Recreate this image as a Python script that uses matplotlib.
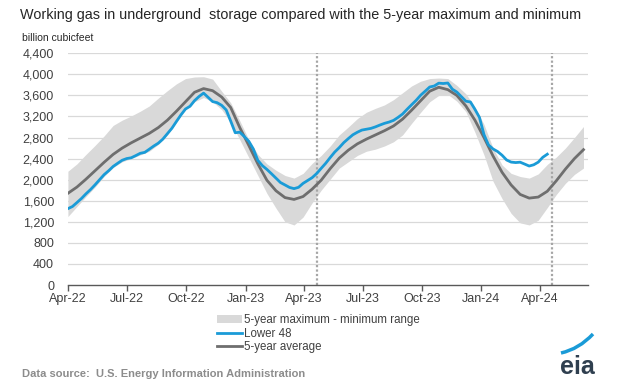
import matplotlib
matplotlib.use("Agg")
import matplotlib.pyplot as plt
from matplotlib.path import Path
from matplotlib.patches import PathPatch, Patch
from matplotlib.lines import Line2D
import pandas as pd

plt.rcParams['font.family'] = ['Liberation Sans', 'DejaVu Sans']

# ---------------- data ----------------
title = "Working gas in underground  storage compared with the 5-year maximum and minimum"
unit_label = "billion cubicfeet"
source_text = "Data source:  U.S. Energy Information Administration"

# weekly Lower 48 working gas, week ending 2022-04-15 .. 2024-04-26
lower48_start = "2022-04-15"
lower48 = [
    1450, 1490, 1566, 1643, 1732, 1812, 1902, 1999, 2095, 2169, 2251, 2311, 2369, 2401,
    2416, 2457, 2501, 2519, 2579, 2640, 2694, 2771, 2874, 2977, 3106, 3231, 3342, 3394,
    3501, 3580, 3644, 3564, 3483, 3462, 3412, 3325, 3112, 2891,
    2902, 2820, 2729, 2583, 2366, 2266, 2195, 2114, 2030, 1946, 1900, 1853, 1830, 1855,
    1930, 1984, 2038, 2116, 2215, 2311, 2421, 2525, 2609, 2704, 2780, 2852, 2901, 2942,
    2958, 2974, 3003, 3038, 3070, 3094, 3126, 3183, 3247, 3337, 3423, 3507, 3604, 3681,
    3760, 3779, 3833, 3826, 3836, 3719, 3664, 3577, 3490, 3476,
    3336, 3182, 2856, 2659, 2584, 2535, 2464, 2374, 2334, 2325, 2332, 2296, 2259, 2283,
    2333, 2425, 2484,
]

# biweekly 5-year statistics, 2022-04-15 .. 2024-06-21
five_start = "2022-04-15"
avg5 = [
    1741, 1860, 2010, 2170, 2330, 2480, 2600, 2700, 2790, 2880, 2990, 3130, 3300, 3480,
    3660, 3730, 3690, 3570, 3370, 2990, 2650, 2300, 1990, 1790, 1660, 1625, 1680, 1820,
    1990, 2210, 2410, 2560, 2680, 2770, 2850, 2930, 3020, 3150, 3320, 3500, 3680, 3755,
    3710, 3600, 3400, 3130, 2800, 2450, 2140, 1900, 1720, 1650, 1670, 1780, 1980, 2200,
    2400, 2570,
]
max5 = [
    2160, 2300, 2480, 2650, 2830, 3030, 3130, 3210, 3300, 3400, 3550, 3690, 3820, 3920,
    3950, 3955, 3910, 3680, 3460, 3120, 2760, 2480, 2300, 2180, 2080, 2030, 2120, 2310,
    2460, 2640, 2850, 3000, 3160, 3280, 3355, 3420, 3520, 3650, 3780, 3870, 3920, 3930,
    3920, 3790, 3630, 3380, 3050, 2600, 2280, 2120, 2060, 2030, 2110, 2290, 2430, 2600,
    2800, 3010,
]
min5 = [
    1300, 1490, 1680, 1860, 2060, 2230, 2340, 2400, 2470, 2540, 2670, 2850, 3090, 3330,
    3480, 3560, 3480, 3330, 3090, 2760, 2420, 2080, 1740, 1460, 1200, 1140, 1290, 1560,
    1800, 2010, 2220, 2340, 2460, 2540, 2580, 2640, 2720, 2850, 3070, 3280, 3480, 3600,
    3620, 3490, 3290, 2900, 2470, 1970, 1640, 1360, 1180, 1140, 1230, 1470, 1720, 1930,
    2100, 2220,
]

tick_dates = ["2022-04-15", "2022-07-15", "2022-10-15", "2023-01-15", "2023-04-15",
              "2023-07-15", "2023-10-15", "2024-01-15", "2024-04-15"]
tick_labels = ["Apr-22", "Jul-22", "Oct-22", "Jan-23", "Apr-23",
               "Jul-23", "Oct-23", "Jan-24", "Apr-24"]
marker_dates = ["2023-05-05", "2024-05-03"]
y_ticks = [0, 400, 800, 1200, 1600, 2000, 2400, 2800, 3200, 3600, 4000, 4400]

legend_labels = ["5-year maximum - minimum range", "Lower 48", "5-year average"]

# ---------------- style ----------------
BLUE = "#1a9bd7"
AVG = "#6e6e6e"
BAND = "#d9d9d9"
GRID = "#d9d9d9"
TXT = "#404040"

W, H = 623, 384
fig = plt.figure(figsize=(W / 100, H / 100), dpi=100)
ax = fig.add_axes([67.9 / W, 1 - 285 / H, (588 - 67.9) / W, (285 - 53.3) / H])

d_l48 = pd.date_range(lower48_start, periods=len(lower48), freq="7D")
d_5 = pd.date_range(five_start, periods=len(avg5), freq="14D")

ax.fill_between(d_5, min5, max5, color=BAND, linewidth=0, zorder=1)
ax.plot(d_5, avg5, color=AVG, lw=2.0, zorder=3)
ax.plot(d_l48, lower48, color=BLUE, lw=2.0, zorder=4)

for md in marker_dates:
    ax.axvline(pd.Timestamp(md), color="#a6a6a6", lw=1.6, ls=(0, (1, 1)), zorder=2)

ax.set_ylim(0, 4400)
ax.set_xlim(pd.Timestamp("2022-04-15"), pd.Timestamp("2024-06-28"))
ax.set_yticks(y_ticks)
ax.set_yticklabels([f"{v:,}" for v in y_ticks])
ax.set_xticks([pd.Timestamp(t) for t in tick_dates])
ax.set_xticklabels(tick_labels)

for v in y_ticks[1:]:
    ax.axhline(v, color=GRID, lw=0.9, zorder=0)

for s in ["top", "right", "left"]:
    ax.spines[s].set_visible(False)
ax.spines["bottom"].set_color("#595959")
ax.spines["bottom"].set_linewidth(1.0)
ax.spines["bottom"].set_zorder(5)
ax.tick_params(axis="y", length=0, pad=10, labelsize=9, labelcolor=TXT)
ax.tick_params(axis="x", length=4, width=1, color="#595959", pad=2,
               labelsize=9, labelcolor=TXT, direction="out")

fig.text(20 / W, 1 - 15 / H, title, fontsize=10.4, color="#262626", va="center", ha="left")
fig.text(22 / W, 1 - 38 / H, unit_label, fontsize=7.5, color="#262626", va="center", ha="left")
fig.text(22 / W, 1 - 374 / H, source_text, fontsize=8, color="#8c8c8c",
         fontweight="bold", va="center", ha="left")

handles = [Patch(facecolor=BAND, edgecolor="none"),
           Line2D([], [], color=BLUE, lw=2),
           Line2D([], [], color=AVG, lw=2)]
leg = fig.legend(handles, legend_labels, loc="upper left",
                 bbox_to_anchor=(217 / W, 1 - 314 / H), frameon=False,
                 fontsize=8.3, labelspacing=0.15, handlelength=2.2,
                 handletextpad=0.1, borderaxespad=0, borderpad=0,
                 handleheight=0.7)
for t in leg.get_texts():
    t.set_color(TXT)

# eia logo
fig.text(577 / W, 1 - 367 / H, "eia", fontsize=18, fontweight="bold",
         color="#2f3f4f", ha="center", va="center")
verts = [(561 / W, 1 - 353 / H), (579 / W, 1 - 349 / H), (593 / W, 1 - 334 / H)]
arc = PathPatch(Path(verts, [Path.MOVETO, Path.CURVE3, Path.CURVE3]),
                transform=fig.transFigure, fill=False, edgecolor="#1a9bd7", lw=2.5)
fig.patches.append(arc)

fig.savefig("out.png", dpi=100)
